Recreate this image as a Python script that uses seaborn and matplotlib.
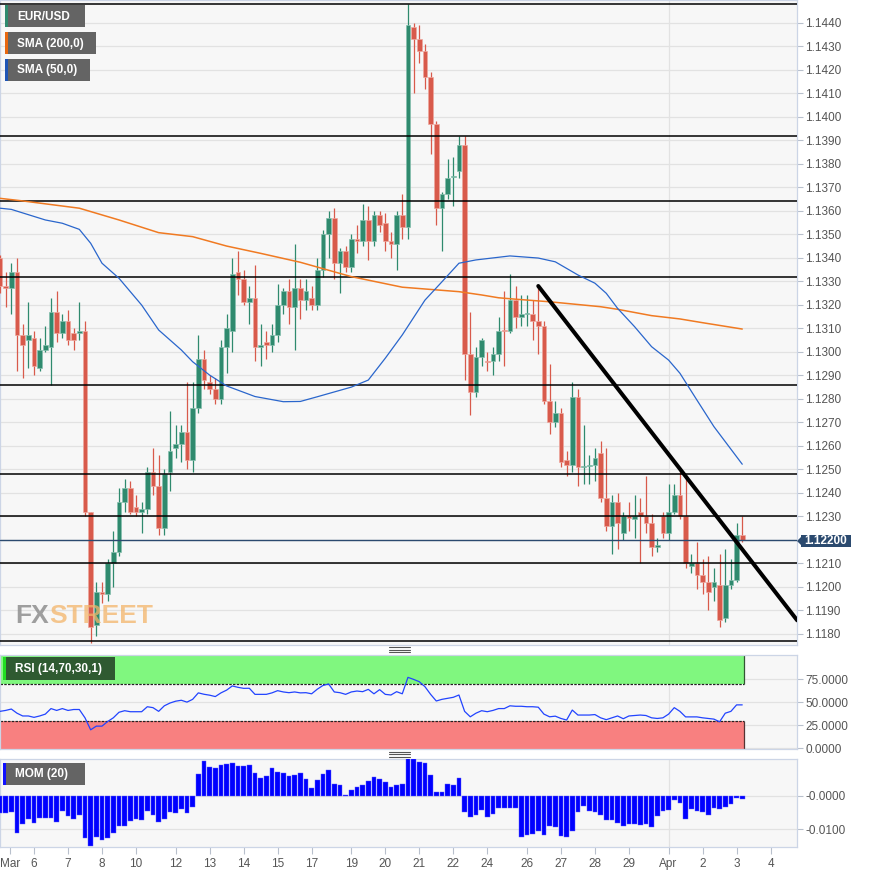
import matplotlib
matplotlib.use("Agg")
import matplotlib.pyplot as plt
import numpy as np
import pandas as pd
import seaborn as sns
from matplotlib.patches import Rectangle, Polygon
from matplotlib.lines import Line2D

# ---------------- data (EUR/USD 4h candles) ----------------
opens = [1.1340,1.1328,1.1327,1.1334,1.1307,1.1305,1.1306,1.1293,1.1301,1.1302,
         1.1317,1.1308,1.1313,1.1308,1.1308,1.1309,1.1232,1.1184,1.1198,1.1197,
         1.1210,1.1215,1.1236,1.1242,1.1234,1.1232,1.1233,1.1249,1.1243,1.1225,
         1.1249,1.1259,1.1261,1.1266,1.1254,1.1276,1.1297,1.1287,1.1284,1.1280,
         1.1302,1.1309,1.1334,1.1331,1.1321,1.1323,1.1302,1.1304,1.1303,1.1307,
         1.1320,1.1326,1.1319,1.1327,1.1322,1.1323,1.1320,1.1335,1.1350,1.1357,
         1.1338,1.1343,1.1336,1.1348,1.1347,1.1356,1.1347,1.1358,1.1355,1.1347,
         1.1346,1.1358,1.1353,1.1438,1.1433,1.1428,1.1417,1.1397,1.1361,1.1367,
         1.13745,1.1377,1.1388,1.1299,1.1283,1.1298,1.1296,1.1296,1.1299,1.13095,
         1.1309,1.1322,1.1315,1.1316,1.1316,1.1313,1.1311,1.1279,1.1270,1.1274,
         1.1254,1.1252,1.1281,1.1251,1.12515,1.1252,1.1257,1.1238,1.1226,1.1236,
         1.1223,1.1230,1.1229,1.1232,1.1230,1.1227,1.1217,1.1230,1.1223,1.1232,
         1.1239,1.1230,1.1209,1.1210,1.1205,1.1202,1.1200,1.1201,1.1187,1.1201,
         1.1203,1.1222]
closes = [1.1328,1.1327,1.1334,1.1307,1.1303,1.1307,1.1294,1.1301,1.1303,1.1317,
          1.1308,1.1313,1.1305,1.1305,1.1309,1.1232,1.1183,1.1198,1.1197,1.1210,
          1.1215,1.1236,1.1242,1.1232,1.1232,1.1233,1.1249,1.1243,1.1225,1.1248,
          1.1258,1.1261,1.1266,1.1254,1.1276,1.1297,1.1288,1.1284,1.1280,1.1302,
          1.1310,1.1333,1.1331,1.1321,1.1323,1.1302,1.1303,1.1303,1.1307,1.1320,
          1.1326,1.1319,1.1327,1.1322,1.1326,1.1320,1.1335,1.1350,1.1357,1.1338,
          1.1343,1.1336,1.1348,1.1347,1.1356,1.1347,1.1358,1.1354,1.1347,1.1346,
          1.1358,1.1353,1.1439,1.1433,1.1428,1.1417,1.1397,1.1361,1.1367,1.1374,
          1.1375,1.1388,1.1299,1.1283,1.1298,1.1305,1.12955,1.1299,1.1309,1.1309,
          1.1322,1.1315,1.1316,1.13165,1.1313,1.1311,1.1279,1.1270,1.1274,1.1253,
          1.1252,1.1281,1.1251,1.12515,1.1252,1.1255,1.1238,1.1226,1.1236,1.1227,
          1.1230,1.12295,1.1230,1.1230,1.1227,1.1217,1.1218,1.1223,1.1232,1.1239,
          1.1230,1.1210,1.1210,1.1205,1.1202,1.1198,1.1202,1.1186,1.1201,1.1203,
          1.1222,1.1220]
highs = [1.1341,1.1334,1.1338,1.1340,1.1312,1.1321,1.1309,1.1306,1.1311,1.1323,
         1.1326,1.1316,1.1318,1.1310,1.1321,1.1313,1.1232,1.1202,1.1202,1.1212,
         1.1224,1.1242,1.1246,1.1245,1.1239,1.1236,1.1251,1.1259,1.1256,1.1250,
         1.1275,1.1269,1.1269,1.1287,1.1287,1.1307,1.1301,1.1290,1.1289,1.1305,
         1.1316,1.1340,1.1343,1.1335,1.1328,1.1337,1.1312,1.1309,1.1312,1.1329,
         1.1327,1.1331,1.1346,1.1331,1.1331,1.1328,1.1340,1.1352,1.1360,1.1361,
         1.1344,1.1345,1.1350,1.1354,1.1363,1.1362,1.1360,1.1360,1.1359,1.1351,
         1.1360,1.1367,1.1448,1.1440,1.1439,1.1431,1.1419,1.1398,1.1368,1.1382,
         1.1383,1.1392,1.1392,1.1317,1.1302,1.1306,1.1300,1.1302,1.1315,1.1326,
         1.1333,1.1328,1.1324,1.1324,1.1322,1.1328,1.1313,1.1295,1.1279,1.1276,
         1.1258,1.1287,1.1284,1.1269,1.1256,1.1259,1.1262,1.1259,1.1239,1.1240,
         1.1232,1.1236,1.1239,1.1238,1.1247,1.1231,1.1221,1.1232,1.1244,1.1244,
         1.1250,1.1247,1.1214,1.1219,1.1212,1.1213,1.1208,1.1214,1.1216,1.1212,
         1.1227,1.1230]
lows = [1.1325,1.1319,1.1316,1.1292,1.1289,1.1293,1.1290,1.1292,1.1300,1.1286,
        1.1304,1.1306,1.1303,1.1301,1.1305,1.1230,1.1176,1.1179,1.1193,1.1194,
        1.1200,1.1213,1.1232,1.1231,1.1230,1.1223,1.1231,1.1239,1.1222,1.1222,
        1.1241,1.1255,1.1253,1.1250,1.1249,1.1274,1.1284,1.1282,1.1278,1.1278,
        1.1291,1.1300,1.1324,1.1320,1.1312,1.1296,1.1294,1.1297,1.1300,1.1304,
        1.1316,1.1312,1.1301,1.1314,1.1318,1.1318,1.1318,1.1332,1.1340,1.1331,
        1.1325,1.1334,1.1334,1.1342,1.1345,1.1339,1.1345,1.1351,1.1343,1.1340,
        1.1335,1.1348,1.1348,1.1410,1.1423,1.1412,1.1384,1.1354,1.1343,1.1365,
        1.1362,1.1374,1.1288,1.1273,1.1281,1.1294,1.1292,1.1290,1.1296,1.1294,
        1.1308,1.1310,1.1311,1.1311,1.1305,1.1299,1.1278,1.1265,1.1268,1.1251,
        1.1247,1.1249,1.1243,1.1244,1.1244,1.1245,1.1236,1.1224,1.1214,1.1216,
        1.1220,1.1224,1.1221,1.1210,1.1223,1.1213,1.1215,1.1221,1.1220,1.1231,
        1.1229,1.1208,1.1206,1.1199,1.1197,1.1190,1.1194,1.1183,1.1185,1.1199,
        1.1202,1.1219]

# moving averages, read at a set of candle positions
sma200_idx = [0, 4, 14, 21, 28, 34, 40, 46, 53, 62, 71, 81, 85, 88, 91, 97, 106, 109, 115, 120, 124, 131]
sma200_val = [1.13653, 1.13642, 1.13611, 1.13561, 1.13507, 1.13490, 1.13450, 1.13419, 1.13381, 1.13320,
              1.13275, 1.13256, 1.13242, 1.13230, 1.13224, 1.13213, 1.13192, 1.13181, 1.13154, 1.13140,
              1.13124, 1.13097]
sma50_idx = [0, 2, 8, 11, 14, 16, 18, 21, 25, 28, 32, 34, 37, 40, 45, 50, 53, 56, 62, 65, 68, 71, 75, 78,
             81, 84, 90, 95, 98, 100, 102, 105, 107, 109, 112, 115, 118, 120, 123, 126, 131]
sma50_val = [1.13611, 1.13606, 1.13561, 1.13547, 1.13521, 1.13462, 1.13377, 1.13313, 1.13199, 1.13093,
             1.13008, 1.12958, 1.12901, 1.12855, 1.12810, 1.12788, 1.12789, 1.12809, 1.12850, 1.12880,
             1.12973, 1.13072, 1.13220, 1.13298, 1.13377, 1.13391, 1.13408, 1.13399, 1.13383, 1.13355,
             1.13327, 1.13292, 1.13249, 1.13185, 1.13107, 1.13022, 1.12965, 1.12909, 1.12795, 1.12682,
             1.12522]

# support / resistance levels, current price, trend line
levels = [1.1448, 1.1392, 1.1364, 1.1332, 1.1286, 1.1248, 1.1230, 1.1210, 1.1177]
last_price = 1.1220
trend_idx = [95, 140.7]
trend_price = [1.1328, 1.11858]

# RSI (14) per candle
rsi_vals = [40,41,42.5,38,35,35,33.5,35,37,43,41,43,41,42,42,33,20,24,24,29,
            33,39,40.7,39.6,39.6,39.6,45,44,40,46,49,51,52,50,53,60,58.5,57.5,56,60,
            63,67.5,66,64.9,65,58.4,58.4,58.4,60,62.4,61,60.2,61,60,60.2,59,64,68,69.6,61,
            60.2,58.4,61,62,61.3,63.8,59,63.5,58.4,57.7,61.3,59,76.8,74.6,72.1,66.7,58.4,51.2,53,54.1,
            55.2,57.7,40,34.1,38,40.7,39.6,41,43,43,46,45.5,45.5,45,45,44.5,37,34.1,34.8,32.3,
            30.6,41.4,36,36,36,36.5,33,31,33,35,32,35,35.5,36,35.5,33,32.3,33,37,44,
            40,34,34,34,33,32.3,31.6,28.7,38,40,47,47]
rsi_upper, rsi_lower = 70, 30

# Momentum(20): first 20 values, rest from closes
mom_period = 20
mom_early = [-0.0051,-0.0051,-0.0048,-0.0111,-0.0085,-0.0071,-0.0081,-0.0068,-0.0068,-0.0068,
             -0.0078,-0.0045,-0.0060,-0.0071,-0.0058,-0.0126,-0.0150,-0.0125,-0.0133,-0.0128]

# x-axis tick labels (candle index of each label)
xtick_pos = [1.8, 6, 12, 18, 24, 31, 37, 43, 49, 55, 62, 68, 74, 80, 86, 93, 99, 105, 111, 118, 124, 130, 136]
xtick_lab = ["Mar", "6", "7", "8", "10", "12", "13", "14", "15", "17", "19", "20", "21", "22", "24",
             "26", "27", "28", "29", "Apr", "2", "3", "4"]
month_grid = [118]

# ---------------- style ----------------
sns.set_theme(style="white")
plt.rcParams['font.family'] = ['Liberation Sans', 'DejaVu Sans']

W, H = 869, 873
fig = plt.figure(figsize=(W / 100, H / 100), dpi=100)
fig.patch.set_facecolor('white')


def add_ax(l, t, r, b):
    return fig.add_axes([l / W, 1 - b / H, (r - l) / W, (b - t) / H])


BG = '#f7f7f7'
GRID = '#e2e2e2'
SPINE = '#ccd5e6'
TXT = '#555555'
GREEN = '#2f8a6e'
RED = '#d85a4b'
XMAX = 797 / 5.666

ax = add_ax(0, 0, 797, 645)
ax_r = add_ax(0, 655, 797, 749)
ax_m = add_ax(0, 759, 797, 847)

for a in (ax, ax_r, ax_m):
    a.set_facecolor(BG)
    a.set_xlim(0, XMAX)
    a.set_axisbelow(True)
    for s in a.spines.values():
        s.set_color(SPINE)
        s.set_linewidth(0.9)
    a.yaxis.tick_right()
    a.tick_params(axis='y', direction='out', length=4, width=0.8, color='#b8c0cc',
                  labelsize=8.5, labelcolor=TXT, pad=2, right=True, left=False)
    a.grid(axis='y', color=GRID, lw=0.9)
    for g in month_grid:
        a.axvline(g, color=GRID, lw=0.9, zorder=0)

# ---------------- price panel ----------------
df = pd.DataFrame(dict(i=np.arange(len(closes)), o=opens, h=highs, l=lows, c=closes))
up = df.c >= df.o
cols = np.where(up, GREEN, RED)
edges = np.where(up, '#86bfae', '#eea79e')
body_b = np.minimum(df.o, df.c)
body_h = np.maximum((df.c - df.o).abs(), 0.00004)

ax.vlines(df.i, df.l, df.h, colors=cols, lw=0.9, zorder=3)
ax.bar(df.i, body_h, bottom=body_b, width=0.8, color=cols, edgecolor=edges, linewidth=0.5, zorder=4)

ax.set_ylim(1.117531, 1.144966)
yt = np.round(np.arange(1.1180, 1.14401, 0.0010), 4)
ax.set_yticks(yt)
ax.set_yticklabels(["" if abs(v - last_price) < 1e-6 else f"{v:.4f}" for v in yt])
ax.set_xticks([])

ax.hlines(levels, 0, XMAX, color='black', lw=1.1, zorder=5)
ax.axhline(last_price, color='#2b4a6f', lw=1.0, zorder=5)

sns.lineplot(x=sma200_idx, y=sma200_val, ax=ax, color='#f07a22', lw=1.1, zorder=6)
sns.lineplot(x=sma50_idx, y=sma50_val, ax=ax, color='#2a66cc', lw=0.9, zorder=6)
ax.plot(trend_idx, trend_price, color='black', lw=2.9, solid_capstyle='round', zorder=7)

# ---------------- RSI panel ----------------
last_i = len(closes) - 1 + 0.3
ax_r.set_ylim(-0.76, 101)
ax_r.add_patch(Rectangle((0, rsi_upper), last_i, 101 - rsi_upper, fc='#80f77f', ec='none', zorder=1))
ax_r.add_patch(Rectangle((0, -0.76), last_i, rsi_lower + 0.76, fc='#f88080', ec='none', zorder=1))
ax_r.hlines([rsi_upper, rsi_lower], 0, last_i, color='#222222', lw=0.9, linestyles=(0, (2, 1)), zorder=2)
ax_r.vlines([last_i], -0.76, rsi_lower, color='#553333', lw=0.9, zorder=2)
ax_r.vlines([last_i], rsi_upper, 101, color='#335533', lw=0.9, zorder=2)
sns.lineplot(x=np.arange(len(rsi_vals)), y=rsi_vals, ax=ax_r, color='#2244ff', lw=0.9, zorder=3)
ax_r.set_yticks([0, 25, 50, 75])
ax_r.set_yticklabels(["0.0000", "25.0000", "50.0000", "75.0000"])
ax_r.set_xticks([])

# ---------------- Momentum panel ----------------
cl = np.array(closes)
mom = np.array(mom_early + list(cl[mom_period:] - cl[:-mom_period]))
ax_m.bar(np.arange(len(mom)), mom, width=0.8, color='#0000ff', edgecolor='#5c5cff', linewidth=0.3, zorder=3)
ax_m.set_ylim(-0.01539, 0.01101)
ax_m.set_yticks([0, -0.01])
ax_m.set_yticklabels(["-0.0000", "-0.0100"])
ax_m.set_xticks(xtick_pos)
ax_m.set_xticklabels(xtick_lab)
ax_m.tick_params(axis='x', direction='out', length=5, width=0.8, color='#b8c0cc',
                 labelsize=8.5, labelcolor=TXT, pad=3, bottom=True)

# ---------------- decorations ----------------
def fig_rect(x0, y0, x1, y1, color, z=10, alpha=1.0):
    fig.patches.append(Rectangle((x0 / W, 1 - y1 / H), (x1 - x0) / W, (y1 - y0) / H,
                                 transform=fig.transFigure, fc=color, ec='none', zorder=z, alpha=alpha))


def fig_txt(x, y, s, **kw):
    return fig.text(x / W, 1 - y / H, s, **kw)


boxes = [((5, 5, 85, 27), '#646464', GREEN, "EUR/USD"),
         ((5, 32, 96, 54), '#646464', '#e8670f', "SMA (200,0)"),
         ((5, 59, 90, 81), '#646464', '#1f55b5', "SMA (50,0)"),
         ((3, 657, 115, 680), '#2f5a31', '#22dd22', "RSI (14,70,30,1)"),
         ((3, 763, 85, 785), '#646464', '#1010ff', "MOM (20)")]
for (x0, y0, x1, y1), bc, sc, label in boxes:
    fig_rect(x0, y0, x1, y1, bc)
    fig_rect(x0, y0, x0 + 3, y1, sc, z=11)
    fig_txt(x0 + 12, (y0 + y1) / 2 + 0.5, label, color='white', fontsize=8.5, fontweight='bold',
            va='center', ha='left', zorder=12)

# panel handles
for yc in (649.7, 754.3):
    for dy in (-2.3, 0, 2.3):
        fig.lines.append(Line2D([389 / W, 410 / W], [1 - (yc + dy) / H] * 2, transform=fig.transFigure,
                                color='#555555', lw=0.8))

# last price tag
fig_rect(801, 535, 851, 547, '#2b4a6f', z=12)
fig.patches.append(Polygon([(797 / W, 1 - 541 / H), (801.5 / W, 1 - 536.5 / H), (801.5 / W, 1 - 545.5 / H)],
                           closed=True, transform=fig.transFigure, fc='#2b4a6f', ec='none', zorder=12))
fig_txt(826, 541.3, f"{last_price:.5f}", color='white', fontsize=8.5, fontweight='bold',
        va='center', ha='center', zorder=13)

# watermark (two-colour logo text), second word placed right after the first
wm_font = dict(fontsize=19, fontweight='bold', family=['Liberation Sans Narrow', 'Liberation Sans'],
               ha='left', va='baseline', zorder=2)
t_fx = fig_txt(15, 623, "FX", color='#8f8f8f', alpha=0.85, **wm_font)
renderer = fig.canvas.get_renderer()
x_end = t_fx.get_window_extent(renderer).x1
fig.text(x_end / W, 1 - 623 / H, "STREET", color='#f3b56a', alpha=0.75, **wm_font)

fig.savefig("out.png", dpi=100, facecolor='white')
